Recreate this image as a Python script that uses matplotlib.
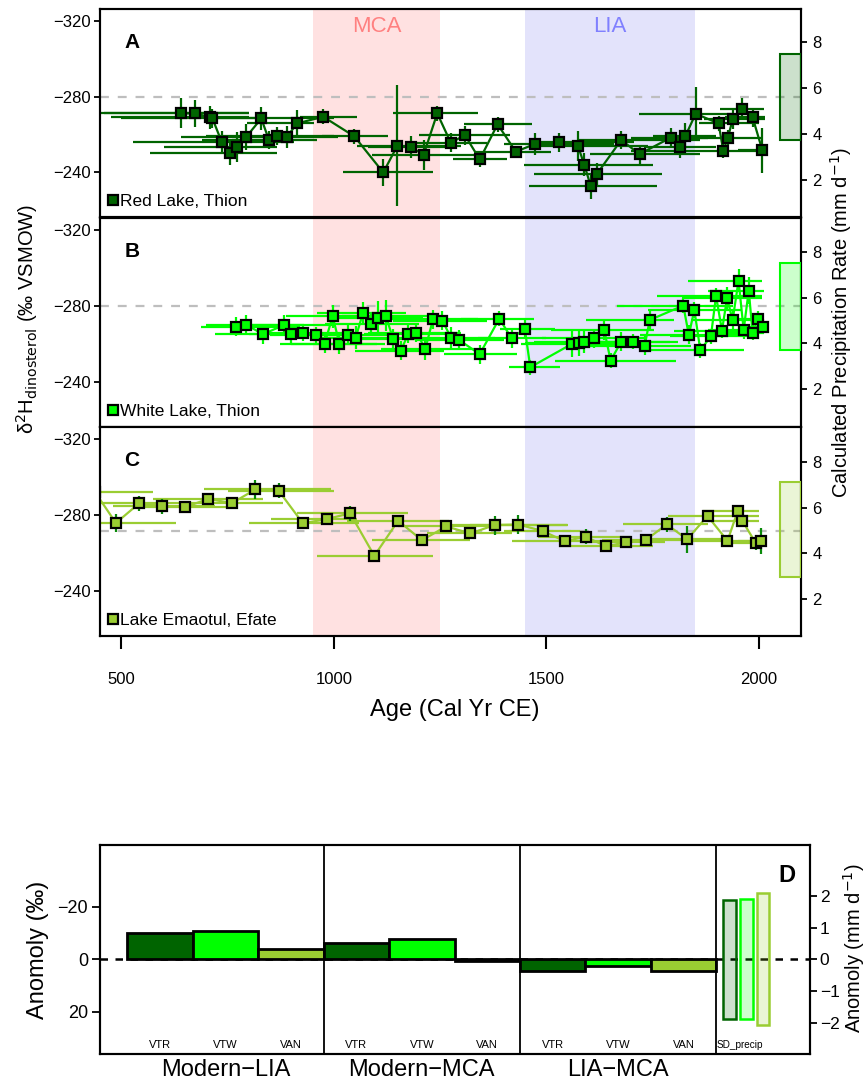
import matplotlib
matplotlib.use('Agg')
import matplotlib.pyplot as plt
from matplotlib.patches import Rectangle
import matplotlib.transforms as mtransforms
import numpy as np

plt.rcParams['font.family'] = ['Liberation Sans', 'DejaVu Sans']
plt.rcParams['axes.linewidth'] = 1.5

# ---- Red Lake, Thion (VTR) ----
red_age = [640, 674, 709, 714, 736, 755, 773, 793, 829, 847, 867, 889, 913, 975,
           1048, 1116, 1149, 1181, 1211, 1243, 1275, 1308, 1343, 1385, 1428, 1472,
           1529, 1574, 1589, 1604, 1618, 1676, 1719, 1792, 1814, 1827, 1851, 1905,
           1916, 1927, 1938, 1960, 1985, 2008]
red_d2h = [-271.1, -271.1, -269.0, -268.4, -255.9, -250.0, -253.2, -258.5, -268.4,
           -257.0, -259.1, -258.5, -265.8, -269.3, -258.9, -239.8, -253.9, -253.2,
           -249.2, -271.1, -255.5, -259.6, -246.7, -265.3, -250.8, -254.8, -255.7,
           -253.9, -243.9, -232.7, -238.8, -257.0, -249.5, -258.2, -253.2, -259.1,
           -270.9, -265.8, -251.3, -258.2, -267.9, -273.5, -269.1, -251.5]
red_err = [8, 7, 6, 5, 6, 6, 8, 7, 6, 5, 5, 6, 7, 4, 4, 7, 32, 6, 8, 4, 5, 5, 4, 4,
           3, 6, 5, 8, 6, 7, 6, 5, 5, 5, 6, 7, 14, 4, 4, 4, 5, 6, 5, 12]
red_lo = [400, 460, 475, 500, 528, 566, 599, 640, 700, 690, 700, 760, 796, 921, 973,
          1022, 1055, 1080, 1090, 1140, 1180, 1200, 1281, 1305, 1330, 1399, 1470,
          1460, 1446, 1460, 1470, 1573, 1603, 1700, 1730, 1750, 1717, 1860, 1700,
          1860, 1870, 1909, 1920, 1950]
red_hi = [800, 800, 800, 820, 905, 867, 867, 952, 1000, 960, 1000, 1010, 952, 1055,
          1126, 1232, 1298, 1290, 1330, 1338, 1360, 1415, 1408, 1467, 1510, 1658,
          1705, 1740, 1750, 1761, 1773, 1862, 1862, 1880, 1900, 1900, 1940, 2000,
          2010, 2010, 2015, 2011, 2015, 2015]

# ---- White Lake, Thion (VTW) ----
white_age = [769, 794, 833, 883, 900, 928, 957, 978, 997, 1013, 1032, 1051, 1068,
             1086, 1103, 1122, 1139, 1157, 1175, 1194, 1215, 1233, 1255, 1276, 1294,
             1343, 1389, 1418, 1449, 1462, 1560, 1577, 1588, 1611, 1636, 1651, 1676,
             1703, 1731, 1743, 1822, 1835, 1848, 1862, 1887, 1899, 1913, 1925, 1938,
             1952, 1964, 1976, 1985, 1998, 2009]
white_d2h = [-269.1, -270.0, -265.1, -270.0, -265.3, -265.6, -264.7, -260.2, -274.6,
             -259.8, -264.9, -263.2, -276.2, -270.4, -273.8, -274.9, -262.6, -256.3,
             -265.3, -265.9, -257.4, -273.0, -272.3, -263.0, -262.1, -254.6, -273.3,
             -263.0, -267.9, -247.7, -260.0, -260.4, -261.2, -263.0, -267.2, -251.2,
             -261.2, -261.2, -258.9, -272.6, -280.2, -264.7, -277.9, -256.7, -264.0,
             -285.4, -267.0, -284.2, -272.5, -293.3, -267.4, -288.1, -266.0, -273.2,
             -269.0]
white_err = [5, 5, 5, 5, 5, 4, 4, 5, 6, 5, 5, 6, 6, 6, 9, 8, 5, 5, 5, 5, 6, 5, 5, 6,
             5, 5, 4, 5, 5, 4, 7, 7, 6, 5, 5, 4, 5, 4, 5, 5, 4, 5, 4, 4, 4, 4, 4, 6,
             6, 6, 5, 7, 4, 4, 4]
white_lo = [686, 700, 721, 770, 800, 830, 850, 874, 886, 900, 930, 950, 960, 980,
            1000, 1020, 1030, 1050, 1070, 1080, 1110, 1120, 1140, 1170, 1190, 1260,
            1300, 1340, 1390, 1413, 1440, 1450, 1470, 1490, 1510, 1521, 1560, 1580,
            1600, 1594, 1667, 1720, 1740, 1745, 1790, 1761, 1800, 1820, 1840, 1832,
            1880, 1880, 1900, 1930, 1950]
white_hi = [921, 930, 937, 1000, 1010, 1040, 1060, 1102, 1133, 1120, 1140, 1160,
            1170, 1200, 1210, 1230, 1250, 1260, 1280, 1300, 1330, 1340, 1360, 1380,
            1400, 1430, 1470, 1500, 1520, 1533, 1680, 1690, 1700, 1730, 1752, 1804,
            1790, 1810, 1840, 1799, 1940, 1950, 1960, 1964, 1990, 2008, 2000, 2008,
            2008, 2008, 2010, 2012, 2012, 2012, 2015]

# ---- Lake Emaotul, Efate (VAN) ----
efate_age = [438, 487, 542, 596, 650, 704, 760, 815, 870, 927, 983, 1038, 1095, 1151,
             1207, 1264, 1321, 1378, 1434, 1491, 1543, 1592, 1640, 1687, 1735, 1783,
             1831, 1879, 1926, 1950, 1961, 1992, 2005]
efate_d2h = [-292.0, -275.8, -286.3, -284.7, -284.2, -288.5, -286.3, -293.5, -292.8,
             -275.6, -277.9, -280.9, -258.5, -277.0, -266.7, -274.0, -270.3, -274.7,
             -275.0, -271.6, -266.2, -268.6, -263.5, -265.6, -267.0, -275.1, -267.2,
             -279.5, -266.4, -282.1, -276.9, -265.4, -266.2]
efate_err = [3, 5, 4, 4, 3, 3, 3, 5, 4, 3, 3, 4, 3, 3, 3, 3, 3, 5, 5, 3, 2, 4, 3, 2,
             3, 4, 7, 3, 3, 2, 3, 4, 7]
efate_lo = [300, 345, 440, 480, 530, 575, 640, 693, 750, 800, 851, 914, 961, 1030,
            1090, 1150, 1220, 1251, 1320, 1400, 1420, 1480, 1530, 1580, 1630, 1681,
            1720, 1787, 1830, 1869, 1880, 1930, 1950]
efate_hi = [575, 629, 650, 720, 770, 834, 880, 992, 1000, 1060, 1055, 1175, 1234,
            1270, 1320, 1380, 1420, 1549, 1550, 1580, 1660, 1700, 1750, 1780, 1840,
            1879, 1940, 1999, 2005, 1999, 2000, 2005, 2010]

# modern reference level (per mil) and precipitation SD (mm/d) per site
ref_d2h = [-280.0, -280.0, -271.7]
ref_precip = [5.61, 5.61, 5.04]
sd_precip = [1.87, 1.90, 2.08]

# ---- anomalies (per mil), groups: Modern-LIA, Modern-MCA, LIA-MCA ----
groups = ['Modern\u2212LIA', 'Modern\u2212MCA', 'LIA\u2212MCA']
sites = ['VTR', 'VTW', 'VAN']
anom_vtr = [-10.1, -6.2, 4.3]
anom_vtw = [-10.7, -7.7, 2.7]
anom_van = [-3.8, 0.5, 4.3]

cols = ['#006400', '#00FF00', '#9ACD32']
vcols = ['#006400', '#00FF00', '#0A8A0A']
names = ['Red Lake, Thion', 'White Lake, Thion', 'Lake Emaotul, Efate']
letters = ['A', 'B', 'C']

fig = plt.figure(figsize=(8.67, 10.85), dpi=100)

panel_pos = [[0.1159, 0.8000, 0.8080, 0.1917],
             [0.1159, 0.6065, 0.8080, 0.1926],
             [0.1159, 0.4138, 0.8080, 0.1926]]
precip_lims = [(0.39, 9.43), (0.34, 9.49), (0.38, 9.53)]

series = [(red_age, red_d2h, red_err, red_lo, red_hi),
          (white_age, white_d2h, white_err, white_lo, white_hi),
          (efate_age, efate_d2h, efate_err, efate_lo, efate_hi)]

for i in range(3):
    age, d2h, err, lo, hi = [np.array(v, dtype=float) for v in series[i]]
    ax = fig.add_axes(panel_pos[i])
    ax.axvspan(950, 1250, color='#FFE1E1', lw=0, zorder=0)
    ax.axvspan(1450, 1850, color='#E3E3FB', lw=0, zorder=0)
    ax.axhline(ref_d2h[i], color='#BEBEBE', ls=(0, (4, 4)), lw=1.6, zorder=1)
    ax.hlines(d2h, lo, hi, color=cols[i], lw=1.6, zorder=2)
    ax.vlines(age, d2h - err, d2h + err, color=vcols[i], lw=1.6, zorder=2)
    ax.plot(age, d2h, color=cols[i], lw=1.6, zorder=3)
    ax.plot(age, d2h, 's', ms=6.8, mfc=cols[i], mec='black', mew=1.6,
            zorder=4, label=names[i])
    ax.set_xlim(450.6, 2099)
    ax.set_ylim(-216.2, -326.4)
    ax.set_yticks([-320, -280, -240])
    ax.tick_params(axis='y', direction='out', length=4, width=1.3, pad=3,
                   labelsize=12)
    if i < 2:
        ax.tick_params(axis='x', bottom=False, labelbottom=False)
    else:
        ax.set_xticks([500, 1000, 1500, 2000])
        ax.tick_params(axis='x', direction='out', length=9, width=1.5, pad=17,
                       labelsize=12)
    ax.text(0.045, 0.84, letters[i], transform=ax.transAxes, fontsize=15,
            fontweight='bold', ha='center', va='center')
    ax.legend(loc='lower left', frameon=False, handlelength=0.5,
              handletextpad=0.15, borderaxespad=0.15, borderpad=0.3,
              numpoints=1, fontsize=12.5)
    if i == 0:
        ax.text(1100, -317, 'MCA', color='#FF8080', fontsize=16,
                ha='center', va='center')
        ax.text(1650, -317, 'LIA', color='#8080FF', fontsize=16,
                ha='center', va='center')

    tw = ax.twinx()
    tw.set_ylim(precip_lims[i])
    tw.set_yticks([2, 4, 6, 8])
    tw.tick_params(axis='y', direction='out', length=4, width=1.3, pad=4,
                   labelsize=12)
    tw.add_patch(Rectangle((2049, ref_precip[i] - sd_precip[i]), 50,
                           2 * sd_precip[i], facecolor=cols[i], alpha=0.2,
                           lw=0, zorder=2))
    tw.add_patch(Rectangle((2049, ref_precip[i] - sd_precip[i]), 50,
                           2 * sd_precip[i], facecolor='none',
                           edgecolor=cols[i], lw=1.5, zorder=3))

fig.text(0.031, 0.706, 'δ$^2$H$_{\\mathrm{dinosterol}}$ (‰ VSMOW)',
         rotation=90, ha='center', va='center', fontsize=14.5)
fig.text(0.970, 0.703, r'Calculated Precipitation Rate (mm d$^{-1}$)',
         rotation=90, ha='center', va='center', fontsize=14.5)
fig.text(0.524, 0.346, 'Age (Cal Yr CE)', ha='center', va='center', fontsize=17)

# ---- panel D: anomaly bars ----
axd = fig.add_axes([0.1158, 0.02857, 0.8185, 0.1926])
axd.axhline(0, color='black', ls=(0, (3, 3)), lw=1.8, zorder=1)
anoms = [anom_vtr, anom_vtw, anom_van]
trans = mtransforms.blended_transform_factory(axd.transData, axd.transAxes)
for g in range(3):
    for s in range(3):
        axd.bar(3 * g + s, anoms[s][g], width=1, align='edge', color=cols[s],
                edgecolor='black', lw=2, zorder=2)
        axd.text(3 * g + s + 0.5, 0.043, sites[s], fontsize=8, ha='center',
                 va='center', transform=trans)
for xv in [3, 6, 9]:
    axd.axvline(xv, color='black', lw=1.3, zorder=3)
for g in range(3):
    axd.text(3 * g + 1.5, -0.078, groups[g], fontsize=17, ha='center',
             va='center', transform=trans)
axd.text(9.36, 0.043, 'SD_precip', fontsize=7.2, ha='center', va='center',
         transform=trans)
axd.text(0.967, 0.856, 'D', transform=axd.transAxes, fontsize=17,
         fontweight='bold', ha='center', va='center')
axd.set_xlim(-0.41, 10.43)
axd.set_ylim(36.1, -43.5)
axd.set_xticks([])
axd.set_yticks([-20, 0, 20])
axd.tick_params(axis='y', direction='out', length=6, width=1.3, pad=3,
                labelsize=13)
axd.set_ylabel('Anomoly (‰)', fontsize=17, labelpad=6)

twd = axd.twinx()
twd.set_ylim(-2.99, 3.61)
twd.set_yticks([2, 1, 0, -1, -2])
twd.tick_params(axis='y', direction='out', length=5, width=1.3, pad=2,
                labelsize=12.5)
box_x = [9.105, 9.36, 9.615]
for s in range(3):
    twd.add_patch(Rectangle((box_x[s], -sd_precip[s]), 0.195, 2 * sd_precip[s],
                            facecolor=cols[s], alpha=0.2, lw=0))
    twd.add_patch(Rectangle((box_x[s], -sd_precip[s]), 0.195, 2 * sd_precip[s],
                            facecolor='none', edgecolor=cols[s], lw=1.8))
fig.text(0.985, 0.126, r'Anomoly (mm d$^{-1}$)', rotation=90, ha='center',
         va='center', fontsize=14.5)

fig.savefig('out.png', dpi=100)
